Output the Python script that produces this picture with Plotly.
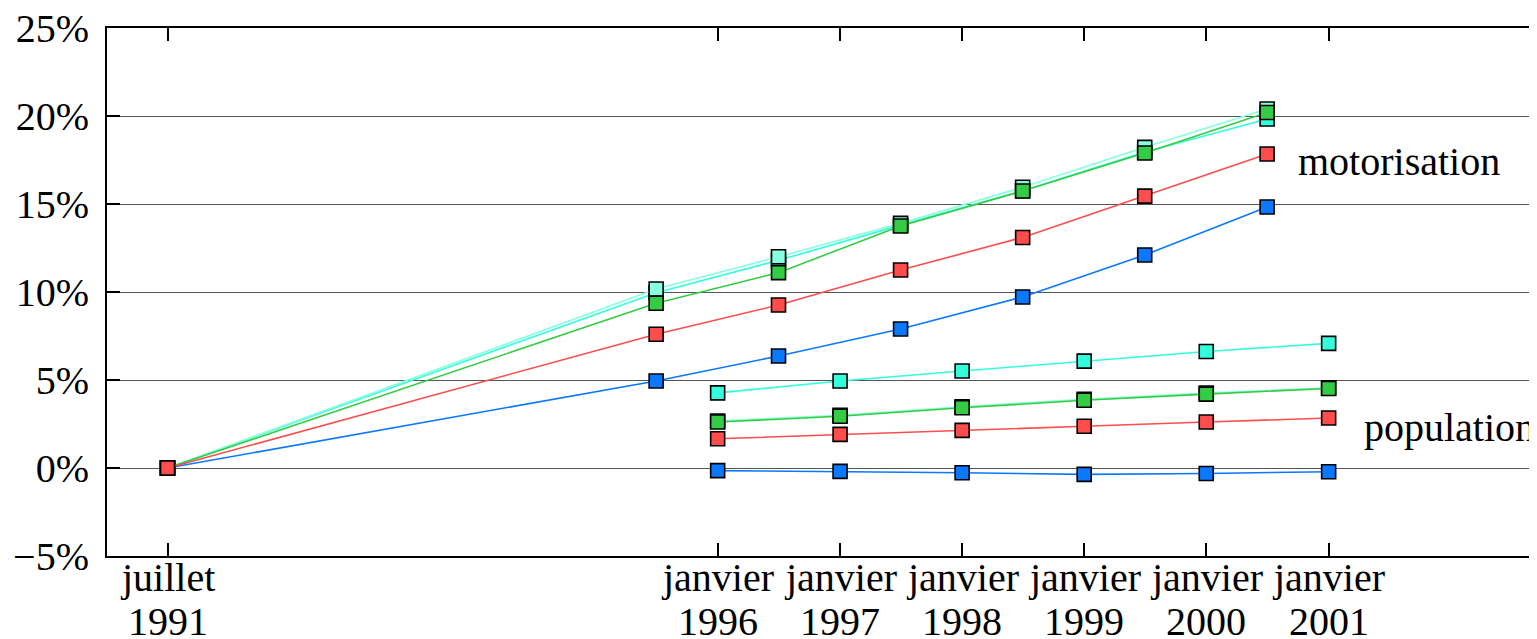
import plotly.graph_objects as go

# ---- data ----
motor_dates = ["1991-07-01", "1995-07-01", "1996-07-01", "1997-07-01",
               "1998-07-01", "1999-07-01", "2000-07-01"]
pop_dates = ["1996-01-01", "1997-01-01", "1998-01-01",
             "1999-01-01", "2000-01-01", "2001-01-01"]

motor_blue = [0, 4.94, 6.36, 7.9, 9.72, 12.1, 14.83]
motor_turq = [0, 9.96, 11.8, 13.8, 15.75, 17.95, 19.83]
motor_aqua = [0, 10.17, 12.0, 13.9, 15.95, 18.22, 20.4]
motor_green = [0, 9.36, 11.1, 13.75, 15.74, 17.9, 20.2]
motor_red = [0, 7.6, 9.26, 11.25, 13.1, 15.45, 17.84]

pop_blue = [-0.15, -0.19, -0.27, -0.36, -0.31, -0.21]
pop_turq = [4.27, 4.94, 5.51, 6.07, 6.62, 7.08]
pop_aqua = [2.67, 3.0, 3.48, 3.91, 4.26, 4.56]
pop_green = [2.61, 2.94, 3.42, 3.85, 4.2, 4.52]
pop_red = [1.66, 1.91, 2.14, 2.37, 2.61, 2.84]

tick_dates = ["1991-07-01", "1996-01-01", "1997-01-01", "1998-01-01",
              "1999-01-01", "2000-01-01", "2001-01-01"]
tick_month = ["juillet", "janvier", "janvier", "janvier",
              "janvier", "janvier", "janvier"]
tick_year = ["1991", "1996", "1997", "1998", "1999", "2000", "2001"]
y_ticks = [-5, 0, 5, 10, 15, 20, 25]
y_text = ["\u22125%", "0%", "5%", "10%", "15%", "20%", "25%"]

labels = ["motorisation", "population"]
label_x = ["2000-09-25", "2001-04-12"]
label_y = [17.4, 2.3]

# ---- styles ----
colors = {
    "blue": "#0a78ff",
    "turq": "#33ffdd",
    "aqua": "#88ffdf",
    "green": "#33cc44",
    "red": "#ff4c4c",
}
FONT = "Liberation Serif, Times New Roman, serif"
FS = 40

series = [
    ("blue", motor_blue, pop_blue),
    ("turq", motor_turq, pop_turq),
    ("aqua", motor_aqua, pop_aqua),
    ("green", motor_green, pop_green),
    ("red", motor_red, pop_red),
]

fig = go.Figure()
for key, mv, pv in series:
    c = colors[key]
    for xs, ys in ((motor_dates, mv), (pop_dates, pv)):
        fig.add_trace(go.Scatter(
            x=xs, y=ys, mode="lines+markers",
            line=dict(color=c, width=1.6),
            marker=dict(symbol="square", size=14, color=c,
                        line=dict(color="black", width=1.6)),
            showlegend=False, hoverinfo="skip"))

for t, lx, ly in zip(labels, label_x, label_y):
    fig.add_annotation(x=lx, y=ly, text=t, showarrow=False,
                       xanchor="left", yanchor="middle",
                       font=dict(family=FONT, size=FS, color="black"))

# two-line date labels under the x axis
for d, m, yr in zip(tick_dates, tick_month, tick_year):
    fig.add_annotation(x=d, xref="x", y=0, yref="paper", text=m,
                       showarrow=False, xanchor="center", yanchor="top",
                       yshift=3, font=dict(family=FONT, size=FS, color="black"))
    fig.add_annotation(x=d, xref="x", y=0, yref="paper", text=yr,
                       showarrow=False, xanchor="center", yanchor="top",
                       yshift=-41, font=dict(family=FONT, size=FS, color="black"))

# the page body has an 8px margin: compensate so the plot sits where the reference does
fig.update_layout(
    width=1529, height=631,
    margin=dict(l=99, r=0, t=20, b=83),
    paper_bgcolor="white", plot_bgcolor="white",
    font=dict(family=FONT, size=FS, color="black"),
    xaxis=dict(
        type="date", range=["1991-01-01", "2002-09-16"],
        tickmode="array", tickvals=tick_dates, showticklabels=False,
        ticks="inside", ticklen=13, tickwidth=1.5, tickcolor="black",
        showline=True, linecolor="black", linewidth=2, mirror="ticks",
        showgrid=False, zeroline=False, automargin=False,
    ),
    yaxis=dict(
        range=[-5, 25], tickmode="array", tickvals=y_ticks, ticktext=y_text,
        ticks="inside", ticklen=13, tickwidth=1.5, tickcolor="black",
        showline=True, linecolor="black", linewidth=2, mirror=False,
        showgrid=True, gridcolor="#555555", gridwidth=1, zeroline=False,
        tickfont=dict(family=FONT, size=FS), ticklabelstandoff=8,
        ticklabeloverflow="allow", automargin=False,
    ),
)

fig.write_html("out.html")
